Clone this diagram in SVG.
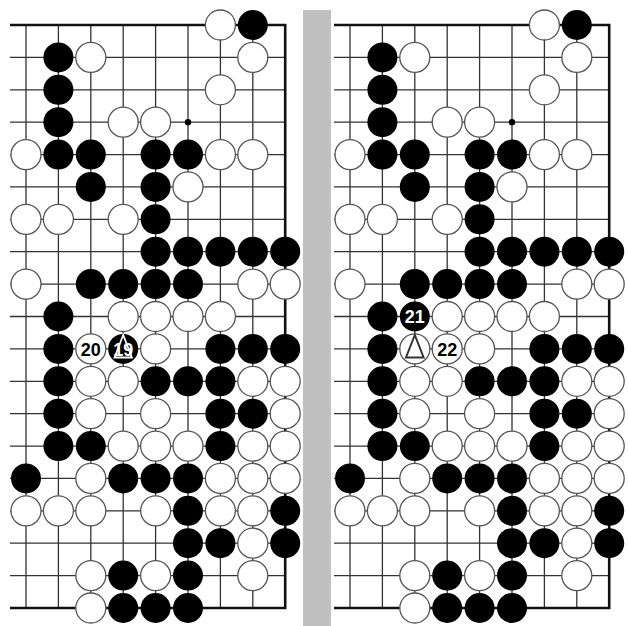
<svg xmlns="http://www.w3.org/2000/svg" xmlns:xlink="http://www.w3.org/1999/xlink" width="628" height="626" viewBox="0 0 628 626">
<style>
.grid{stroke:#333;stroke-width:1.3;fill:none}
.edge{stroke:#111;stroke-width:2.6;fill:none}
.w{fill:#fff;stroke:#555;stroke-width:1.3}
.b{fill:#000}
.lbl{font-family:"Liberation Sans",Arial,sans-serif;font-weight:bold;font-size:18px;text-anchor:middle}
</style>
<defs>
<circle id="B" r="15" class="b"/>
<circle id="W" r="15" class="w"/>
<g id="board">
<path class="grid" d="M26,25V608M58.4,25V608M90.8,25V608M123.2,25V608M155.6,25V608M188,25V608M220.4,25V608M252.8,25V608M10,57.39H285.2M10,89.78H285.2M10,122.17H285.2M10,154.56H285.2M10,186.94H285.2M10,219.33H285.2M10,251.72H285.2M10,284.11H285.2M10,316.5H285.2M10,348.89H285.2M10,381.28H285.2M10,413.67H285.2M10,446.06H285.2M10,478.44H285.2M10,510.83H285.2M10,543.22H285.2M10,575.61H285.2"/>
<path class="edge" d="M10,25H285.2V608H10"/>
<circle cx="188" cy="122.17" r="3.2" fill="#000"/>
<!-- row 0 -->
<use href="#W" x="220.4" y="25"/><use href="#B" x="252.8" y="25"/>
<!-- row 1 -->
<use href="#B" x="58.4" y="57.39"/><use href="#W" x="90.8" y="57.39"/><use href="#W" x="252.8" y="57.39"/>
<!-- row 2 -->
<use href="#B" x="58.4" y="89.78"/><use href="#W" x="220.4" y="89.78"/>
<!-- row 3 -->
<use href="#B" x="58.4" y="122.17"/><use href="#W" x="123.2" y="122.17"/><use href="#W" x="155.6" y="122.17"/>
<!-- row 4 -->
<use href="#W" x="26" y="154.56"/><use href="#B" x="58.4" y="154.56"/><use href="#B" x="90.8" y="154.56"/><use href="#B" x="155.6" y="154.56"/><use href="#B" x="188" y="154.56"/><use href="#W" x="220.4" y="154.56"/><use href="#W" x="252.8" y="154.56"/>
<!-- row 5 -->
<use href="#B" x="90.8" y="186.94"/><use href="#B" x="155.6" y="186.94"/><use href="#W" x="188" y="186.94"/>
<!-- row 6 -->
<use href="#W" x="26" y="219.33"/><use href="#W" x="58.4" y="219.33"/><use href="#W" x="123.2" y="219.33"/><use href="#B" x="155.6" y="219.33"/>
<!-- row 7 -->
<use href="#B" x="155.6" y="251.72"/><use href="#B" x="188" y="251.72"/><use href="#B" x="220.4" y="251.72"/><use href="#B" x="252.8" y="251.72"/><use href="#B" x="285.2" y="251.72"/>
<!-- row 8 -->
<use href="#W" x="26" y="284.11"/><use href="#B" x="90.8" y="284.11"/><use href="#B" x="123.2" y="284.11"/><use href="#B" x="155.6" y="284.11"/><use href="#B" x="188" y="284.11"/><use href="#W" x="252.8" y="284.11"/><use href="#W" x="285.2" y="284.11"/>
<!-- row 9 -->
<use href="#B" x="58.4" y="316.5"/><use href="#W" x="123.2" y="316.5"/><use href="#W" x="155.6" y="316.5"/><use href="#W" x="188" y="316.5"/><use href="#W" x="220.4" y="316.5"/>
<!-- row 10 -->
<use href="#B" x="58.4" y="348.89"/><use href="#W" x="155.6" y="348.89"/><use href="#B" x="220.4" y="348.89"/><use href="#B" x="252.8" y="348.89"/><use href="#B" x="285.2" y="348.89"/>
<!-- row 11 -->
<use href="#B" x="58.4" y="381.28"/><use href="#W" x="90.8" y="381.28"/><use href="#W" x="123.2" y="381.28"/><use href="#B" x="155.6" y="381.28"/><use href="#B" x="188" y="381.28"/><use href="#B" x="220.4" y="381.28"/><use href="#W" x="252.8" y="381.28"/><use href="#W" x="285.2" y="381.28"/>
<!-- row 12 -->
<use href="#B" x="58.4" y="413.67"/><use href="#W" x="90.8" y="413.67"/><use href="#W" x="155.6" y="413.67"/><use href="#B" x="220.4" y="413.67"/><use href="#B" x="252.8" y="413.67"/><use href="#W" x="285.2" y="413.67"/>
<!-- row 13 -->
<use href="#B" x="58.4" y="446.06"/><use href="#B" x="90.8" y="446.06"/><use href="#W" x="123.2" y="446.06"/><use href="#W" x="155.6" y="446.06"/><use href="#W" x="188" y="446.06"/><use href="#B" x="220.4" y="446.06"/><use href="#W" x="252.8" y="446.06"/><use href="#W" x="285.2" y="446.06"/>
<!-- row 14 -->
<use href="#B" x="26" y="478.44"/><use href="#W" x="90.8" y="478.44"/><use href="#B" x="123.2" y="478.44"/><use href="#B" x="155.6" y="478.44"/><use href="#B" x="188" y="478.44"/><use href="#W" x="220.4" y="478.44"/><use href="#W" x="252.8" y="478.44"/><use href="#W" x="285.2" y="478.44"/>
<!-- row 15 -->
<use href="#W" x="26" y="510.83"/><use href="#W" x="58.4" y="510.83"/><use href="#W" x="90.8" y="510.83"/><use href="#W" x="155.6" y="510.83"/><use href="#B" x="188" y="510.83"/><use href="#W" x="220.4" y="510.83"/><use href="#W" x="252.8" y="510.83"/><use href="#B" x="285.2" y="510.83"/>
<!-- row 16 -->
<use href="#B" x="188" y="543.22"/><use href="#B" x="220.4" y="543.22"/><use href="#W" x="252.8" y="543.22"/><use href="#B" x="285.2" y="543.22"/>
<!-- row 17 -->
<use href="#W" x="90.8" y="575.61"/><use href="#B" x="123.2" y="575.61"/><use href="#W" x="155.6" y="575.61"/><use href="#B" x="188" y="575.61"/><use href="#W" x="252.8" y="575.61"/>
<!-- row 18 -->
<use href="#W" x="90.8" y="608"/><use href="#B" x="123.2" y="608"/><use href="#B" x="155.6" y="608"/><use href="#B" x="188" y="608"/>
</g>
</defs>
<rect id="divider" x="303" y="10" width="28" height="616" fill="#c0c0c0"/>
<g id="left-board">
<use href="#board"/>
<g id="stone-20"><use href="#W" x="90.8" y="348.89"/><text class="lbl" x="90.8" y="355.5" fill="#000">20</text></g>
<g id="stone-19"><use href="#B" x="123.2" y="348.89"/><path d="M123.2,335L114.5,357.5H131.9Z" fill="none" stroke="#fff" stroke-width="1.8"/><text class="lbl" x="123.2" y="355.5" fill="#fff">19</text></g>
</g>
<g id="right-board" transform="translate(324,0)">
<use href="#board"/>
<g id="stone-21"><use href="#B" x="90.8" y="316.5"/><text class="lbl" x="90.8" y="323" fill="#fff">21</text></g>
<g id="stone-tri"><use href="#W" x="90.8" y="348.89"/><path d="M90.8,335L82,357.5H99.6Z" fill="none" stroke="#333" stroke-width="2"/></g>
<g id="stone-22"><use href="#W" x="123.2" y="348.89"/><text class="lbl" x="123.2" y="355.5" fill="#000">22</text></g>
</g>
</svg>
